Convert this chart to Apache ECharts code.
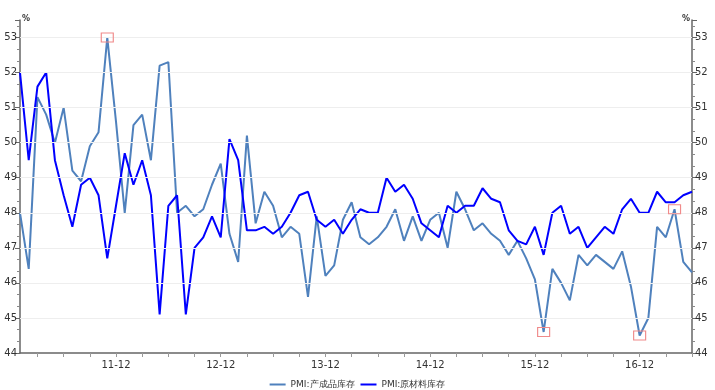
<!DOCTYPE html>
<html><head><meta charset="utf-8">
<script src="https://cdn.jsdelivr.net/npm/echarts@6/dist/echarts.min.js"></script>
<style>html,body{margin:0;padding:0;background:#fff}#c{width:715px;height:390px}</style>
</head><body><div id="c"></div>
<script>
const months = [
'11-01','11-02','11-03','11-04','11-05','11-06','11-07','11-08','11-09','11-10','11-11','11-12',
'12-01','12-02','12-03','12-04','12-05','12-06','12-07','12-08','12-09','12-10','12-11','12-12',
'13-01','13-02','13-03','13-04','13-05','13-06','13-07','13-08','13-09','13-10','13-11','13-12',
'14-01','14-02','14-03','14-04','14-05','14-06','14-07','14-08','14-09','14-10','14-11','14-12',
'15-01','15-02','15-03','15-04','15-05','15-06','15-07','15-08','15-09','15-10','15-11','15-12',
'16-01','16-02','16-03','16-04','16-05','16-06','16-07','16-08','16-09','16-10','16-11','16-12',
'17-01','17-02','17-03','17-04','17-05','17-06'];
const finishedGoods = [
48.0,46.4,51.3,50.8,50.0,51.0,49.2,48.9,49.9,50.3,53.0,50.6,
48.0,50.5,50.8,49.5,52.2,52.3,48.0,48.2,47.9,48.1,48.8,49.4,
47.4,46.6,50.2,47.7,48.6,48.2,47.3,47.6,47.4,45.6,47.9,46.2,
46.5,47.8,48.3,47.3,47.1,47.3,47.6,48.1,47.2,47.9,47.2,47.8,
48.0,47.0,48.6,48.1,47.5,47.7,47.4,47.2,46.8,47.2,46.7,46.1,
44.6,46.4,46.0,45.5,46.8,46.5,46.8,46.6,46.4,46.9,45.9,44.5,
45.0,47.6,47.3,48.1,46.6,46.3];
const rawMaterials = [
52.0,49.5,51.6,52.0,49.5,48.5,47.6,48.8,49.0,48.5,46.7,48.2,
49.7,48.8,49.5,48.5,45.1,48.2,48.5,45.1,47.0,47.3,47.9,47.3,
50.1,49.5,47.5,47.5,47.6,47.4,47.6,48.0,48.5,48.6,47.8,47.6,
47.8,47.4,47.8,48.1,48.0,48.0,49.0,48.6,48.8,48.4,47.7,47.5,
47.3,48.2,48.0,48.2,48.2,48.7,48.4,48.3,47.5,47.2,47.1,47.6,
46.8,48.0,48.2,47.4,47.6,47.0,47.3,47.6,47.4,48.1,48.4,48.0,
48.0,48.6,48.3,48.3,48.5,48.6];
const seriesNames = ['PMI:产成品库存', 'PMI:原材料库存'];
const highlightIdx = [10, 60, 71, 75];
const yTicks = [44, 45, 46, 47, 48, 49, 50, 51, 52, 53];
const yMin = 44, yMax = 53.5, yStep = 1;

const FONT = 'DejaVu Sans';
const axisCol = '#666';
function yAxisCfg(pos) {
  return {
    type: 'value', position: pos, min: yMin, max: yMax, interval: yStep,
    name: '%', nameLocation: 'end', nameGap: -3,
    nameTextStyle: {fontSize: 8, color: '#333', fontFamily: FONT, fontWeight: 'bold',
      align: pos === 'left' ? 'left' : 'right', padding: pos === 'left' ? [0, 0, 0, 2] : [0, 2, 0, 0]},
    axisLine: {show: true, lineStyle: {color: axisCol, width: 1.5}},
    axisTick: {show: true, length: 5, lineStyle: {color: axisCol}},
    minorTick: {show: true, splitNumber: 3, length: 3, lineStyle: {color: '#888'}},
    axisLabel: {fontSize: 10, color: '#333', fontFamily: FONT, margin: 3,
      formatter: v => (Math.abs(v - Math.round(v)) < 1e-6 ? String(Math.round(v)) : '')},
    splitLine: {show: false}
  };
}
const chart = echarts.init(document.getElementById('c'), null, {renderer: 'canvas'});
chart.setOption({
  animation: false,
  backgroundColor: '#fff',
  grid: {left: 20, right: 23, top: 20, bottom: 37, containLabel: false},
  legend: {
    top: 375, left: 'center', icon: 'rect', itemWidth: 16, itemHeight: 2, itemGap: 6,
    textStyle: {fontSize: 9, color: '#333', fontFamily: FONT},
    data: seriesNames
  },
  xAxis: {
    type: 'category', data: months, boundaryGap: false,
    axisLine: {lineStyle: {color: axisCol, width: 1.5}},
    axisTick: {show: true, length: 4, interval: i => i % 3 === 2, lineStyle: {color: '#999'}},
    axisLabel: {interval: i => i % 12 === 11, fontSize: 10, color: '#333', fontFamily: FONT, margin: 7},
    splitLine: {show: false}
  },
  yAxis: [yAxisCfg('left'), yAxisCfg('right')],
  series: [
    {
      name: 'grid', type: 'line', data: [], z: 0, silent: true,
      markLine: {
        silent: true, symbol: ['none', 'none'], label: {show: false},
        lineStyle: {color: '#eeeeee', width: 1, type: 'solid'},
        emphasis: {disabled: true},
        data: yTicks.slice(1).map(v => ({yAxis: v}))
      }
    },
    {
      name: seriesNames[0], type: 'line', data: finishedGoods, yAxisIndex: 0,
      symbol: 'none', lineStyle: {color: '#4F81BD', width: 2}, itemStyle: {color: '#4F81BD'},
      markPoint: {
        silent: true, symbol: 'rect', symbolSize: [12, 9],
        itemStyle: {color: 'rgba(0,0,0,0)', borderColor: '#F08A8A', borderWidth: 1},
        label: {show: false},
        data: highlightIdx.map(i => ({coord: [i, finishedGoods[i]]}))
      }
    },
    {
      name: seriesNames[1], type: 'line', data: rawMaterials, yAxisIndex: 0,
      symbol: 'none', lineStyle: {color: '#0000FF', width: 2}, itemStyle: {color: '#0000FF'}
    }
  ]
});
</script>
</body></html>
